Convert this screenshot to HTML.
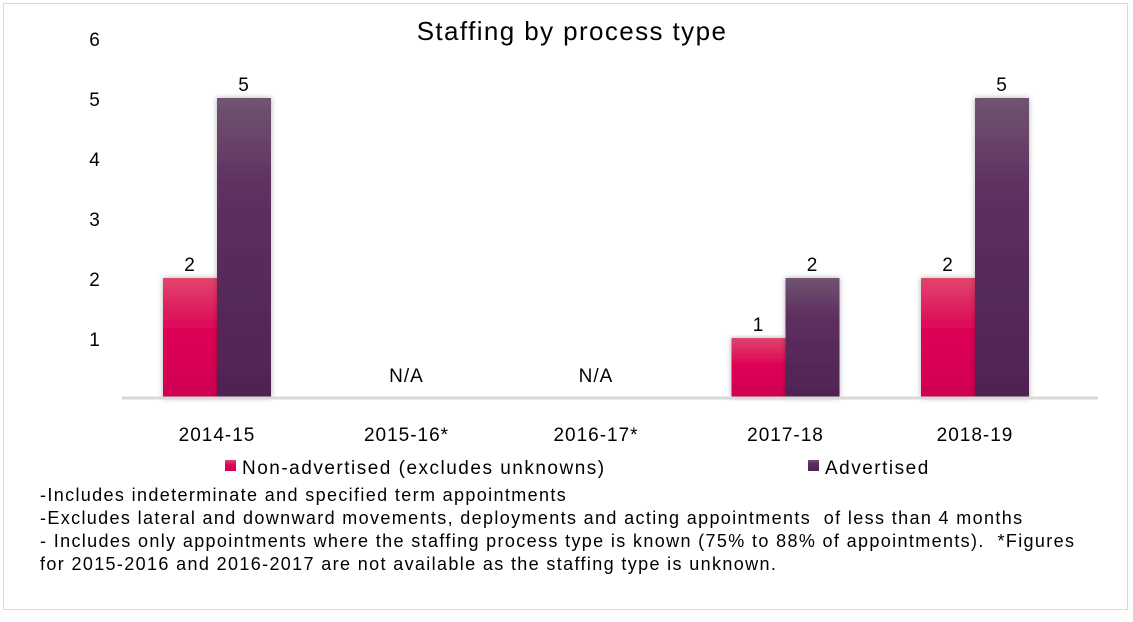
<!DOCTYPE html>
<html><head><meta charset="utf-8"><style>
body{margin:0;background:#fff;font-family:"Liberation Sans",sans-serif;}
#wrap{position:relative;width:1133px;height:617px;}
.note{position:absolute;left:40px;font-size:18px;letter-spacing:1.36px;color:#000;white-space:nowrap;}
text{letter-spacing:1px;}
</style></head><body>
<div id="wrap">
<svg id="chart" width="1133" height="617">
<defs>
<linearGradient id="gp" x1="0" y1="0" x2="0" y2="1"><stop offset="0" stop-color="#e0456c"/><stop offset="0.45" stop-color="#de0257"/><stop offset="1" stop-color="#cf0050"/></linearGradient>
<linearGradient id="gu" x1="0" y1="0" x2="0" y2="1"><stop offset="0" stop-color="#705470"/><stop offset="0.3" stop-color="#5e3060"/><stop offset="1" stop-color="#4f2352"/></linearGradient>
<filter id="sh" x="-20%" y="-5%" width="140%" height="110%"><feDropShadow dx="0" dy="0" stdDeviation="3" flood-color="#000" flood-opacity="0.3"/></filter>
</defs>
<rect x="3.5" y="3.5" width="1124" height="606" fill="#fff" stroke="#d9d9d9"/>
<text x="572" y="40" font-size="26" style="letter-spacing:1.4px" text-anchor="middle">Staffing by process type</text>
<g id="yaxis"></g><g id="bars"></g><g id="xaxis"></g>
<line x1="122" y1="398" x2="1098" y2="398" stroke="#d9d9d9" stroke-width="3"/>
<rect x="225" y="460" width="11" height="11" fill="url(#gp)"/>
<text x="242" y="474" font-size="19" style="letter-spacing:1.5px">Non-advertised (excludes unknowns)</text>
<rect x="808" y="460" width="11" height="11" fill="url(#gu)"/>
<text x="825" y="474" font-size="19" style="letter-spacing:1.5px">Advertised</text>
</svg>
<div class="note" style="top:485px">-Includes indeterminate and specified term appointments</div>
<div class="note" style="top:508px">-Excludes lateral and downward movements, deployments and acting appointments &nbsp;of less than 4 months</div>
<div class="note" style="top:531px">- Includes only appointments where the staffing process type is known (75% to 88% of appointments). &nbsp;*Figures</div>
<div class="note" style="top:554px">for 2015-2016 and 2016-2017 are not available as the staffing type is unknown.</div>
</div>
<script>
const categories=["2014-15","2015-16*","2016-17*","2017-18","2018-19"];
const nonAdvertised=[2,null,null,1,2];
const advertised=[5,null,null,2,5];
const yTicks=[1,2,3,4,5,6];
const NS="http://www.w3.org/2000/svg";
const y0=398,unit=60,x0=217,step=189.5,bw=54;
const yScale=v=>y0-v*unit;
const xScale=i=>x0+i*step;
function mk(tag,attrs,parent){const e=document.createElementNS(NS,tag);for(const k in attrs)e.setAttribute(k,attrs[k]);parent.appendChild(e);return e;}
const ya=document.getElementById('yaxis'),bg=document.getElementById('bars'),xa=document.getElementById('xaxis');
yTicks.forEach(t=>{const e=mk('text',{x:95,y:yScale(t)+8,'font-size':19,'text-anchor':'middle'},ya);e.textContent=t;

});
categories.forEach((c,i)=>{const cx=xScale(i);
const t=mk('text',{x:cx,y:441,'font-size':19,'text-anchor':'middle'},xa);t.textContent=c;


[[nonAdvertised,'url(#gp)',cx-bw,'bar-non-advertised'],[advertised,'url(#gu)',cx,'bar-advertised']].forEach(([arr,fill,x,nm])=>{
const v=arr[i];if(v==null)return;
const r=mk('rect',{x:x,y:yScale(v),width:bw,height:v*unit,fill:fill,filter:'url(#sh)'},bg);


const l=mk('text',{x:x+bw/2,y:yScale(v)-7,'font-size':19,'text-anchor':'middle'},bg);l.textContent=v;

});
if(nonAdvertised[i]==null&&advertised[i]==null){const n=mk('text',{x:cx,y:382,'font-size':19,'text-anchor':'middle'},bg);n.textContent='N/A';

}
});
</script>
</body></html>
